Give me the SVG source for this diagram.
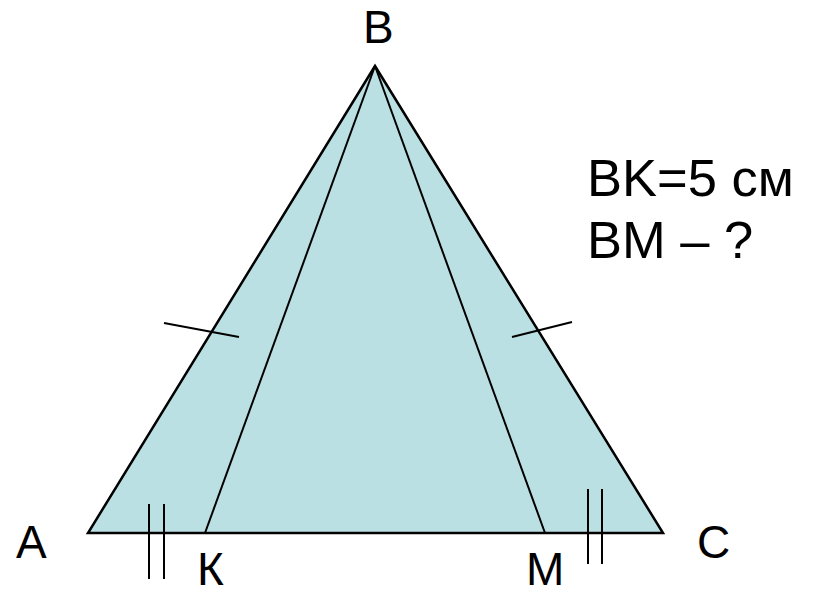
<svg xmlns="http://www.w3.org/2000/svg" width="817" height="589" viewBox="0 0 817 589">
<style>
.fig{fill:#BBE0E3;stroke:#000;stroke-width:2.5;stroke-linejoin:miter}
.ln{stroke:#000;stroke-width:2;fill:none}
.lbl{font-family:"Liberation Sans",Arial,sans-serif;font-size:46px;fill:#000}
.txt{font-family:"Liberation Sans",Arial,sans-serif;font-size:52.5px;fill:#000}
</style>
<rect width="817" height="589" fill="#fff"/>
<g id="triangle">
<polygon class="fig" points="375,66 88,533 663,533"/>
</g>
<g id="connectors">
<line class="ln" x1="375" y1="66" x2="205" y2="533"/>
<line class="ln" x1="375" y1="66" x2="545" y2="533"/>
<line class="ln" x1="164" y1="323" x2="239" y2="337"/>
<line class="ln" x1="512" y1="337" x2="572" y2="322"/>
<line class="ln" x1="149" y1="504" x2="149" y2="579"/>
<line class="ln" x1="164" y1="504" x2="164" y2="579"/>
<line class="ln" x1="588" y1="489" x2="588" y2="564"/>
<line class="ln" x1="602" y1="489" x2="602" y2="564"/>
</g>
<g id="labels">
<text class="lbl" x="363" y="43">B</text>
<text class="lbl" x="16" y="558">A</text>
<text class="lbl" x="697" y="558">C</text>
<text class="lbl" x="197" y="585">К</text>
<text class="lbl" x="526" y="585">М</text>
</g>
<g id="note">
<text class="txt" x="587" y="196">BK=5 см</text>
<text class="txt" x="587" y="258">BM – ?</text>
</g>
</svg>
